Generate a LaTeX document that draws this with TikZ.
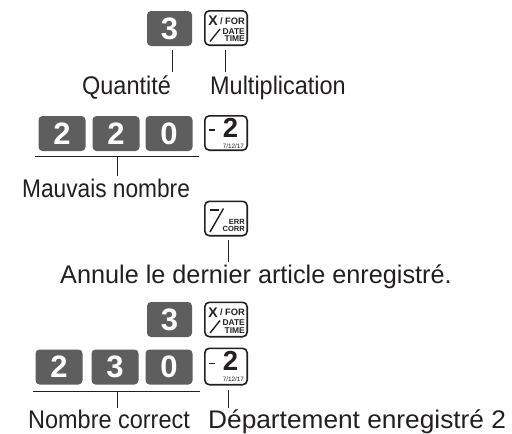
\documentclass[tikz,border=0pt]{standalone}
\usepackage{fontspec}
\usepackage{graphicx}
\setmainfont{Liberation Sans}
\usetikzlibrary{calc}
\definecolor{keygray}{RGB}{94,94,94}
\definecolor{ink}{RGB}{35,31,32}

% caption text, slightly narrowed
\newcommand\captxt[2][0.92]{\scalebox{#1}[1]{#2}}

% faces of the function keys, drawn relative to the key centre
\newcommand\multface[1]{%
  \begin{scope}[shift={(#1.center)}]
    \node[keytxt, font=\fontsize{14}{14}\selectfont\bfseries] at (-13,-7) {X};
    \node[keytxt, anchor=east, font=\fontsize{9.3}{9.3}\selectfont\bfseries] at (19,-7) {/ FOR};
    \draw[ink, line width=1.4pt] (-16,13.5) -- (-6,1);
    \node[keytxt, anchor=east, font=\fontsize{8.4}{8.4}\selectfont\bfseries] at (19,3.5) {DATE};
    \node[keytxt, anchor=east, font=\fontsize{8.4}{8.4}\selectfont\bfseries] at (19,11) {TIME};
  \end{scope}}
\newcommand\deptface[1]{%
  \begin{scope}[shift={(#1.center)}]
    \draw[ink, line width=1.7pt] (-17,-3) -- (-11,-3);
    \node[keytxt, anchor=base, text depth=0pt,
      font=\fontsize{27.5}{27.5}\selectfont\bfseries] at (4.5,4) {2};
    \node[keytxt, anchor=east, font=\fontsize{6.3}{6.3}\selectfont] at (18,13) {7/12/17};
  \end{scope}}
\newcommand\corrface[1]{%
  \begin{scope}[shift={(#1.center)}]
    \draw[ink, line width=1.7pt] (-16,-8.5) -- (-7.5,-8.5);
    \draw[ink, line width=1.4pt] (-16,13.5) -- (-2.5,-10);
    \node[keytxt, anchor=east, font=\fontsize{7.5}{7.5}\selectfont\bfseries] at (19,3) {ERR};
    \node[keytxt, anchor=east, font=\fontsize{7.5}{7.5}\selectfont\bfseries] at (19,10.5) {CORR};
  \end{scope}}

\begin{document}
\begin{tikzpicture}[x=1pt,y=-1pt,
  numkey/.style={fill=keygray, rounded corners=4pt, minimum width=47pt,
    minimum height=35pt, inner sep=0pt, text=white,
    font=\fontsize{31}{31}\selectfont\bfseries},
  fnkey/.style={draw=ink, line width=1.6pt, fill=white, rounded corners=4.5pt,
    minimum width=42.4pt, minimum height=34.4pt, inner sep=0pt},
  keytxt/.style={text=ink, inner sep=0pt},
  lbl/.style={text=ink, inner sep=0pt, anchor=base west,
    font=\fontsize{25.5}{25.5}\selectfont},
  leader/.style={draw=ink, line width=0.8pt},
]
\useasboundingbox (0,0) rectangle (512,434);

% --- quantity and multiplication
\node[numkey, minimum width=45pt] (qa) at (169.5,28.5) {3};
\node[fnkey] (xa) at (226,28) {};
\multface{xa}
\coordinate (qa1) at (172,50);  \coordinate (qa2) at (172,72);
\coordinate (xa1) at (225,50);  \coordinate (xa2) at (225,72);
\draw[leader] (qa1) -- (qa2);
\draw[leader] (xa1) -- (xa2);
\node[lbl] (tq) at (82,94) {\captxt{Quantité}};
\node[lbl] (tx) at (210,94) {\captxt{Multiplication}};

% --- wrong entry 220
\node[numkey] (wa) at (62,133.5) {2};
\node[numkey] (wb) at (116,133.5) {2};
\node[numkey] (wc) at (169,133.5) {0};
\node[fnkey] (da) at (226,133) {};
\deptface{da}
\coordinate (ul1) at (35,156); \coordinate (ul2) at (199,156);
\draw[leader] (ul1) -- (ul2);
\coordinate (ut1) at (117,156); \coordinate (ut2) at (117,176);
\draw[leader] (ut1) -- (ut2);
\node[lbl] (tw) at (22,197) {\captxt[0.89]{Mauvais nombre}};

% --- error correction
\node[fnkey] (ec) at (226,218.5) {};
\corrface{ec}
\coordinate (ec1) at (228,240); \coordinate (ec2) at (228,262);
\draw[leader] (ec1) -- (ec2);
\node[lbl] (te) at (60,283) {\captxt[0.99]{Annule le dernier article enregistré.}};

% --- corrected entry
\node[numkey, minimum width=45pt] (qb) at (169.5,319.5) {3};
\node[fnkey] (xb) at (226,319.5) {};
\multface{xb}
\node[numkey] (ca) at (59,367) {2};
\node[numkey] (cb) at (115,367) {3};
\node[numkey] (cc) at (169,367) {0};
\node[fnkey, minimum height=36.4pt] (db) at (226,366.5) {};
\deptface{db}
\coordinate (vl1) at (33,391); \coordinate (vl2) at (200,391);
\draw[leader] (vl1) -- (vl2);
\coordinate (vt1) at (117,391); \coordinate (vt2) at (117,408);
\draw[leader] (vt1) -- (vt2);
\coordinate (dt1) at (228,390); \coordinate (dt2) at (228,408);
\draw[leader] (dt1) -- (dt2);
\node[lbl] (tc) at (28,428) {\captxt{Nombre correct}};
\node[lbl] (td) at (208,428) {\captxt[1.03]{Département enregistré 2}};
\end{tikzpicture}
\end{document}
